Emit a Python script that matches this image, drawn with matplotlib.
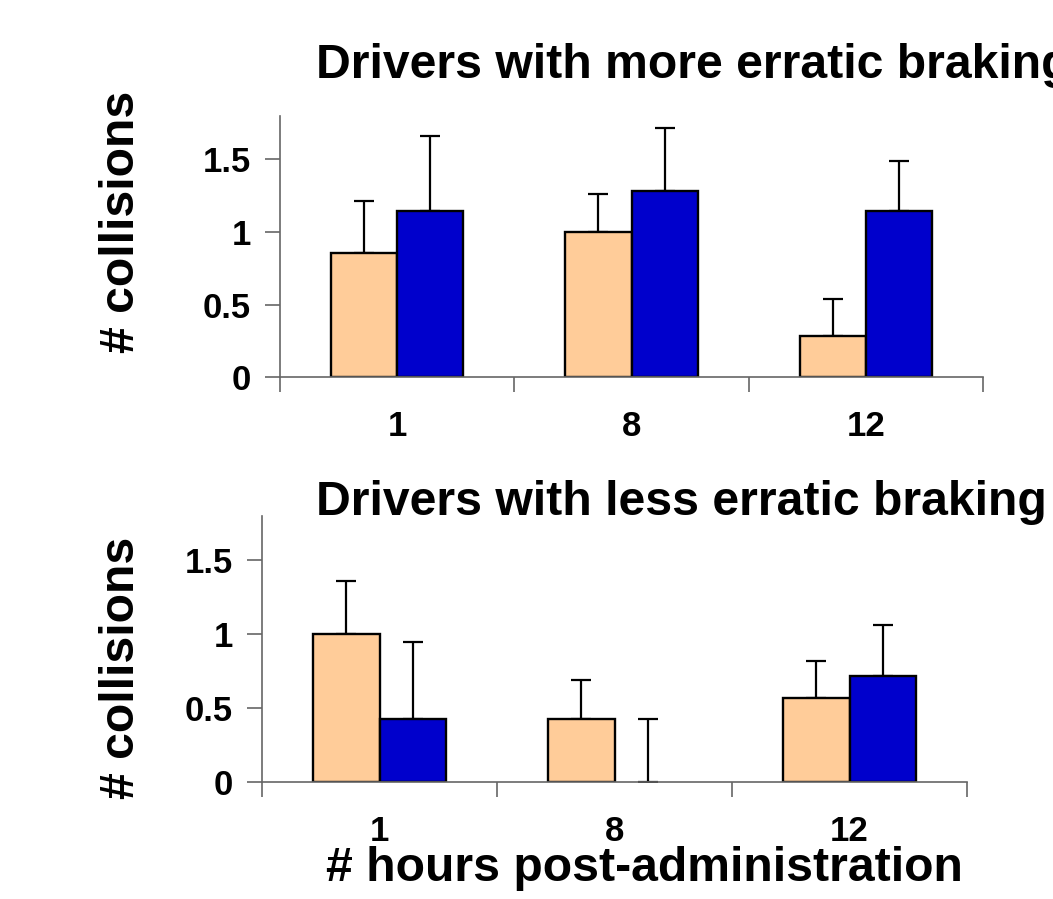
import matplotlib.pyplot as plt
import numpy as np

plt.rcParams['font.family'] = ['Liberation Sans', 'DejaVu Sans']
plt.rcParams['font.weight'] = 'bold'

hours = ['1', '8', '12']

# drivers with more erratic braking
more_peach = [0.857, 1.0, 0.286]
more_peach_err = [0.36, 0.26, 0.25]
more_blue = [1.143, 1.286, 1.143]
more_blue_err = [0.52, 0.43, 0.35]

# drivers with less erratic braking
less_peach = [1.0, 0.429, 0.571]
less_peach_err = [0.36, 0.26, 0.25]
less_blue = [0.429, 0.0, 0.714]
less_blue_err = [0.52, 0.429, 0.35]

W, H = 1053, 899
fig = plt.figure(figsize=(W / 100, H / 100), dpi=100)
axis_grey = '#666666'


def px_rect(left, right, bottom, top):
    return [left / W, (H - bottom) / H, (right - left) / W, (bottom - top) / H]


def draw_panel(ax, peach, peach_err, blue, blue_err):
    x = np.arange(1, len(hours) + 1)
    bw = 0.282
    for vals, col, off in [(peach, '#ffcc99', -bw / 2), (blue, '#0000cc', bw / 2)]:
        edges = ['black' if v > 0 else 'none' for v in vals]
        ax.bar(x + off, vals, bw, color=col, edgecolor=edges, linewidth=1.7, zorder=2)
    ax.errorbar(x - bw / 2, peach, yerr=[np.zeros(3), peach_err], fmt='none',
                ecolor='black', elinewidth=1.6, capsize=7, capthick=1.6, zorder=1)
    ax.errorbar(x + bw / 2, blue, yerr=[np.zeros(3), blue_err], fmt='none',
                ecolor='black', elinewidth=1.6, capsize=7, capthick=1.6, zorder=1)
    ax.set_xlim(0.5, 3.5)
    ax.set_ylim(0, 1.8)
    ax.set_yticks([0, 0.5, 1, 1.5])
    ax.set_yticklabels(['0', '0.5', '1', '1.5'])
    ax.set_xticks(x)
    ax.set_xticklabels(hours)
    ax.set_xticks([0.5, 1.5, 2.5, 3.5], minor=True)
    ax.tick_params(axis='x', which='major', length=0, pad=24, labelsize=25)
    ax.tick_params(axis='x', which='minor', length=11, width=1.2, color=axis_grey)
    ax.tick_params(axis='y', length=11, width=1.2, color=axis_grey, labelsize=25, pad=10)
    for s in ['top', 'right']:
        ax.spines[s].set_visible(False)
    for s in ['left', 'bottom']:
        ax.spines[s].set_color(axis_grey)
        ax.spines[s].set_linewidth(1.2)


ax1 = fig.add_axes(px_rect(280, 983, 377, 116))
draw_panel(ax1, more_peach, more_peach_err, more_blue, more_blue_err)
ax2 = fig.add_axes(px_rect(262, 967, 782, 516))
draw_panel(ax2, less_peach, less_peach_err, less_blue, less_blue_err)

big = 34.7
fig.text(122 / W, 1 - 222 / H, '# collisions', fontsize=big, fontweight='bold',
         rotation=90, ha='center', va='center')
fig.text(122 / W, 1 - 668 / H, '# collisions', fontsize=big, fontweight='bold',
         rotation=90, ha='center', va='center')
fig.text(316 / W, 1 - 78 / H, 'Drivers with more erratic braking', fontsize=big,
         fontweight='bold', ha='left', va='baseline')
fig.text(316 / W, 1 - 515 / H, 'Drivers with less erratic braking', fontsize=big,
         fontweight='bold', ha='left', va='baseline')
fig.text(644 / W, 1 - 881 / H, '# hours post-administration', fontsize=big,
         fontweight='bold', ha='center', va='baseline')

fig.savefig('out.png', dpi=100)
